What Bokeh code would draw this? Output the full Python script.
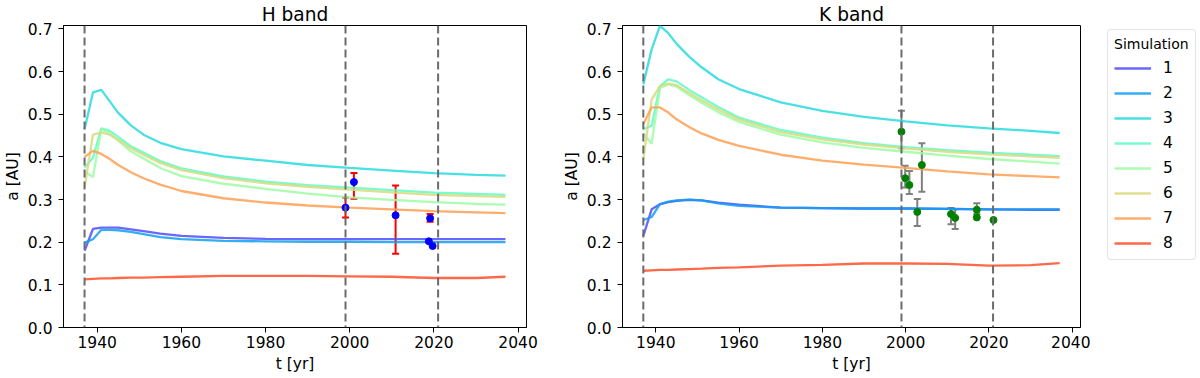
import numpy as np
from bokeh.plotting import figure
from bokeh.models import (ColumnDataSource, Whisker, TeeHead, Span, Legend, LegendItem,
                          FixedTicker, PrintfTickFormatter, Range1d)
from bokeh.layouts import row
from bokeh.embed import file_html
from bokeh.resources import INLINE

# ---------------- data ----------------
years = [1937, 1939, 1941, 1943, 1945, 1948, 1951, 1955, 1960, 1970, 1980, 1990, 2000, 2010, 2020, 2030, 2037]

H_sim1 = [0.180, 0.231, 0.234, 0.234, 0.234, 0.230, 0.226, 0.220, 0.215, 0.210, 0.208, 0.207, 0.207, 0.207, 0.207, 0.207, 0.207]
H_sim2 = [0.199, 0.207, 0.229, 0.229, 0.228, 0.224, 0.219, 0.212, 0.207, 0.203, 0.202, 0.201, 0.201, 0.200, 0.200, 0.200, 0.200]
H_sim3 = [0.465, 0.551, 0.557, 0.530, 0.503, 0.474, 0.452, 0.433, 0.418, 0.401, 0.391, 0.381, 0.374, 0.368, 0.362, 0.358, 0.356]
H_sim4 = [0.375, 0.398, 0.467, 0.461, 0.447, 0.425, 0.410, 0.390, 0.373, 0.354, 0.342, 0.334, 0.328, 0.322, 0.316, 0.313, 0.311]
H_sim5 = [0.365, 0.353, 0.465, 0.455, 0.438, 0.413, 0.396, 0.374, 0.355, 0.337, 0.325, 0.314, 0.305, 0.299, 0.294, 0.290, 0.288]
H_sim6 = [0.328, 0.452, 0.457, 0.452, 0.440, 0.420, 0.405, 0.386, 0.369, 0.350, 0.338, 0.330, 0.323, 0.317, 0.311, 0.308, 0.306]
H_sim7 = [0.400, 0.414, 0.407, 0.395, 0.381, 0.364, 0.350, 0.335, 0.320, 0.303, 0.293, 0.286, 0.281, 0.277, 0.273, 0.270, 0.268]
H_sim8 = [0.113, 0.114, 0.115, 0.115, 0.116, 0.117, 0.117, 0.118, 0.119, 0.121, 0.121, 0.121, 0.120, 0.119, 0.116, 0.116, 0.119]

K_sim1 = [0.215, 0.277, 0.289, 0.294, 0.297, 0.299, 0.298, 0.293, 0.288, 0.281, 0.280, 0.279, 0.279, 0.278, 0.277, 0.276, 0.276]
K_sim2 = [0.252, 0.259, 0.289, 0.295, 0.298, 0.300, 0.298, 0.291, 0.285, 0.281, 0.280, 0.279, 0.279, 0.278, 0.277, 0.277, 0.277]
K_sim3 = [0.570, 0.652, 0.707, 0.690, 0.665, 0.635, 0.610, 0.582, 0.559, 0.528, 0.508, 0.494, 0.483, 0.474, 0.467, 0.461, 0.456]
K_sim4 = [0.465, 0.473, 0.566, 0.582, 0.577, 0.557, 0.540, 0.517, 0.492, 0.463, 0.445, 0.432, 0.423, 0.416, 0.410, 0.405, 0.402]
K_sim5 = [0.455, 0.431, 0.562, 0.570, 0.565, 0.545, 0.527, 0.505, 0.482, 0.452, 0.434, 0.421, 0.412, 0.403, 0.395, 0.389, 0.384]
K_sim6 = [0.395, 0.535, 0.566, 0.572, 0.568, 0.550, 0.533, 0.511, 0.488, 0.458, 0.441, 0.429, 0.420, 0.412, 0.406, 0.401, 0.398]
K_sim7 = [0.477, 0.516, 0.516, 0.504, 0.488, 0.470, 0.455, 0.440, 0.426, 0.405, 0.391, 0.382, 0.374, 0.366, 0.359, 0.355, 0.352]
K_sim8 = [0.133, 0.134, 0.135, 0.135, 0.136, 0.137, 0.138, 0.140, 0.141, 0.145, 0.147, 0.150, 0.150, 0.149, 0.145, 0.146, 0.151]

# observations
H_obs_t = [1999.0, 2001.0, 2010.9, 2019.1, 2018.8, 2019.7]
H_obs_a = [0.281, 0.341, 0.263, 0.256, 0.202, 0.191]
H_obs_ep = [0.024, 0.021, 0.070, 0.010, 0.0, 0.0]
H_obs_em = [0.023, 0.039, 0.090, 0.008, 0.0, 0.0]

K_obs_t = [1999.0, 1999.9, 2000.9, 2003.9, 2002.8, 2010.9, 2011.9, 2017.1, 2017.1, 2021.1]
K_obs_a = [0.459, 0.350, 0.334, 0.381, 0.271, 0.266, 0.257, 0.276, 0.258, 0.252]
K_obs_ep = [0.049, 0.029, 0.033, 0.051, 0.030, 0.014, 0.020, 0.015, 0.0, 0.0]
K_obs_em = [0.039, 0.022, 0.021, 0.063, 0.033, 0.024, 0.026, 0.010, 0.0, 0.0]

epochs = [1937, 1999, 2021]
sim_labels = ["1", "2", "3", "4", "5", "6", "7", "8"]
x_ticks = [1940, 1960, 1980, 2000, 2020, 2040]
y_ticks = [0.0, 0.1, 0.2, 0.3, 0.4, 0.5, 0.6, 0.7]

colors = ["#4d4ffc", "#129ff1", "#28dbde", "#62fbc4", "#9dfba3", "#d7db7e", "#ff9f54", "#ff4f28"]
FONT = "DejaVu Sans"
LW = 2.3
LALPHA = 0.85


def make_fig(title, sims, obs_t, obs_a, obs_ep, obs_em, dot_color, err_color,
             width, border_left, border_right):
    p = figure(width=width, height=378, x_range=Range1d(1932, 2042), y_range=Range1d(0, 0.708),
               output_backend="svg", toolbar_location=None,
               min_border_left=border_left, min_border_right=border_right,
               min_border_top=25, min_border_bottom=51)
    p.grid.visible = False
    p.outline_line_color = "black"
    p.outline_line_alpha = 1
    p.outline_line_width = 1
    p.background_fill_color = "white"
    p.border_fill_color = "white"

    p.title.text = title
    p.title.align = "center"
    p.title.text_font = FONT
    p.title.text_font_size = "18.6px"
    p.title.text_font_style = "normal"
    p.title.text_color = "black"
    p.title.standoff = 2

    p.xaxis.ticker = FixedTicker(ticks=x_ticks)
    p.yaxis.ticker = FixedTicker(ticks=y_ticks)
    p.yaxis.formatter = PrintfTickFormatter(format="%.1f")
    for ax in (p.xaxis[0], p.yaxis[0]):
        ax.axis_line_color = "black"
        ax.major_tick_line_color = "black"
        ax.major_tick_out = 5
        ax.major_tick_in = 0
        ax.minor_tick_out = 0
        ax.minor_tick_in = 0
        ax.major_label_text_font = FONT
        ax.major_label_text_font_size = "15.5px"
        ax.major_label_text_color = "black"
        ax.axis_label_text_font = FONT
        ax.axis_label_text_font_size = "15.5px"
        ax.axis_label_text_font_style = "normal"
        ax.axis_label_text_color = "black"
    p.xaxis.axis_label = "t [yr]"
    p.yaxis.axis_label = "a [AU]"
    p.xaxis.major_label_standoff = 3
    p.xaxis.axis_label_standoff = 4
    p.yaxis.major_label_standoff = 6
    p.yaxis.axis_label_standoff = 3

    src = ColumnDataSource({"t": years, **{f"s{i+1}": s for i, s in enumerate(sims)}})
    for i in range(8):
        p.line("t", f"s{i+1}", source=src, line_color=colors[i], line_width=LW, line_alpha=LALPHA)

    for e in epochs:
        p.add_layout(Span(location=e, dimension="height", line_color="#6b6b6b",
                          line_width=2, line_dash="8 4"))

    idx = [i for i in range(len(obs_t)) if obs_ep[i] > 0 or obs_em[i] > 0]
    wsrc = ColumnDataSource({
        "t": [obs_t[i] for i in idx],
        "hi": [obs_a[i] + obs_ep[i] for i in idx],
        "lo": [obs_a[i] - obs_em[i] for i in idx],
    })
    w = Whisker(base="t", upper="hi", lower="lo", source=wsrc, line_color=err_color, line_width=2,
                upper_head=TeeHead(size=7, line_color=err_color, line_width=2),
                lower_head=TeeHead(size=7, line_color=err_color, line_width=2))
    p.add_layout(w)
    p.scatter(obs_t, obs_a, size=7, fill_color=dot_color, line_color=dot_color)
    return p


p1 = make_fig("H band", [H_sim1, H_sim2, H_sim3, H_sim4, H_sim5, H_sim6, H_sim7, H_sim8],
              H_obs_t, H_obs_a, H_obs_ep, H_obs_em, "#0000ff", "#ff0000",
              width=559, border_left=62, border_right=33)
p2 = make_fig("K band", [K_sim1, K_sim2, K_sim3, K_sim4, K_sim5, K_sim6, K_sim7, K_sim8],
              K_obs_t, K_obs_a, K_obs_ep, K_obs_em, "#008000", "#808080",
              width=531, border_left=58, border_right=10)

# legend panel (a bare figure holding only the legend)
p3 = figure(width=110, height=378, x_range=Range1d(0, 1), y_range=Range1d(0, 1),
            output_backend="svg", toolbar_location=None,
            x_axis_location=None, y_axis_location=None,
            min_border_left=0, min_border_right=0, min_border_top=0, min_border_bottom=0)
p3.grid.visible = False
p3.outline_line_color = None
p3.background_fill_color = "white"
p3.border_fill_color = "white"
leg_rends = []
for i in range(8):
    # drawn outside the (0..1) ranges; only used for the legend swatches
    r = p3.line(x=[-5, -4], y=[-5, -4], line_color=colors[i], line_width=LW, line_alpha=LALPHA)
    leg_rends.append(r)
leg = Legend(items=[LegendItem(label=sim_labels[i], renderers=[leg_rends[i]]) for i in range(8)],
             title="Simulation", location=(17, 67))
leg.title_text_font = FONT
leg.title_text_font_size = "14px"
leg.title_text_font_style = "normal"
leg.title_text_color = "black"
leg.title_standoff = 6
leg.label_text_font = FONT
leg.label_text_font_size = "15.5px"
leg.label_text_color = "black"
leg.glyph_width = 37
leg.glyph_height = 20
leg.label_height = 20
leg.label_standoff = 12
leg.spacing = 5
leg.padding = 6
leg.margin = 0
leg.border_line_color = "#cccccc"
leg.border_line_width = 1
leg.background_fill_color = "white"
leg.background_fill_alpha = 1
try:
    leg.border_radius = 4
except Exception:
    pass
p3.add_layout(leg, "center")

layout = row(p1, p2, p3)
open("out.html", "w").write(file_html(layout, INLINE))
